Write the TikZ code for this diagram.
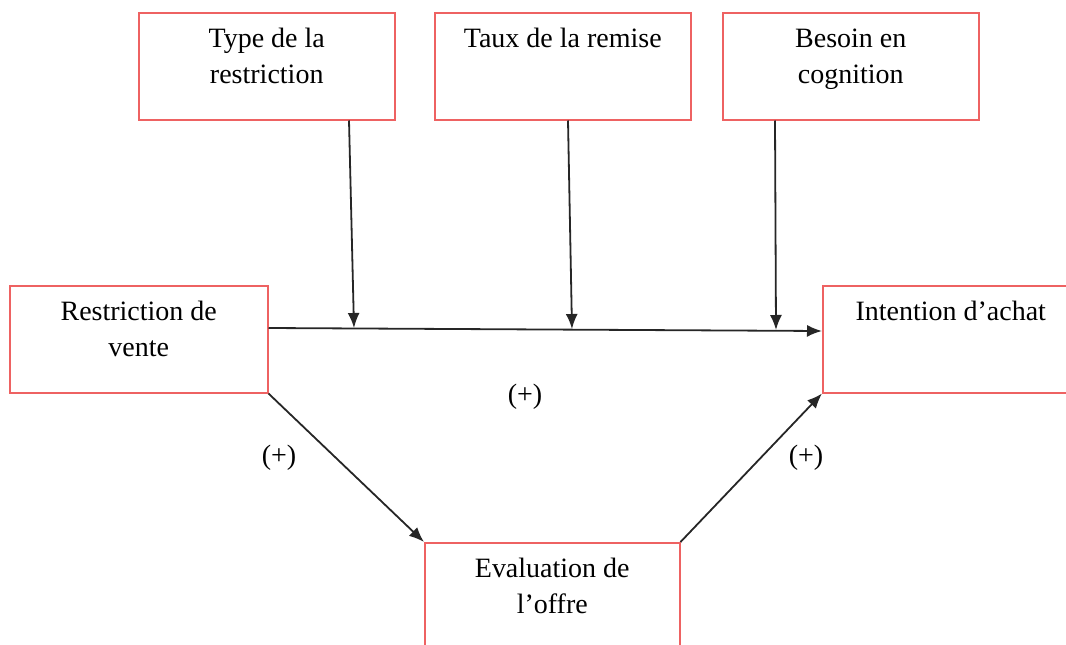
\documentclass[tikz,border=0pt]{standalone}
\usepackage{fontspec}
\setmainfont{Liberation Serif}
\usepackage{tikz}
\usetikzlibrary{calc,arrows.meta}

\definecolor{boxred}{RGB}{238,98,98}
\newcommand{\boxtext}[2]{\parbox[c][107pt][t]{#1}{\centering\vspace{10pt}\strut #2}}

\begin{document}
\begin{tikzpicture}[x=1pt, y=-1pt, font=\fontsize{28}{36}\selectfont,
    box/.style={draw=boxred, line width=1.5pt, inner sep=0pt, anchor=north west},
    link/.style={line width=1.8pt, draw=black!85, -{Latex[length=15pt, width=12pt]}}]
      \useasboundingbox (0,0) rectangle (1066,645);
      % moderators
      \node[box] (type) at (138,12) {\boxtext{256pt}{Type de la\\restriction}};
      \node[box] (rate) at (434,12) {\boxtext{256pt}{Taux de la remise}};
      \node[box] (need) at (722,12) {\boxtext{256pt}{Besoin en\\cognition}};
      % main model
      \node[box] (restr) at (9,285) {\boxtext{258pt}{Restriction de\\vente}};
      \node[box] (intent) at (822,285) {\boxtext{256pt}{Intention d’achat}};
      \node[box] (eval) at (424,542) {\boxtext{255pt}{Evaluation de\\l’offre}};
      \coordinate (m1) at (354,328);
      \coordinate (m2) at (572,329);
      \coordinate (m3) at (776,330);
      \node (p1) at (525,397) {(+)};
      \node (p2) at (279,458) {(+)};
      \node (p3) at (806,458) {(+)};
      \path ($(restr.north east)+(0,43)$) edge[link] ($(intent.north west)+(0,46)$);
      \path ($(type.south west)+(211,0)$) edge[link] (m1);
      \path ($(rate.south west)+(134,0)$) edge[link] (m2);
      \path ($(need.south west)+(53,0)$) edge[link] (m3);
      \path (restr.south east) edge[link] (eval.north west);
      \path (eval.north east) edge[link] (intent.south west);
    \end{tikzpicture}
\end{document}
